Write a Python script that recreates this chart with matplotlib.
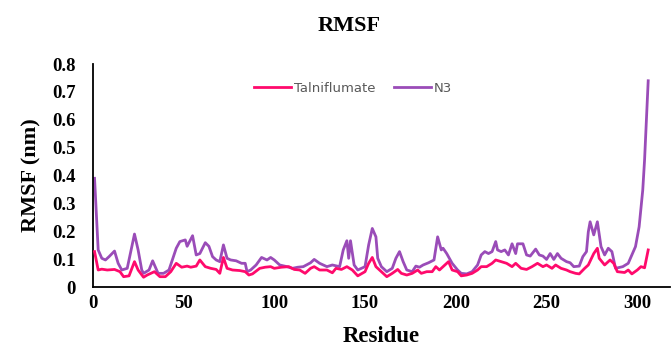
import matplotlib
matplotlib.use("Agg")
import matplotlib.pyplot as plt

# N3 trace (residue, RMSF in nm)
res_n3 = [1, 3, 5, 7, 9, 12, 14, 16, 19, 23, 25, 27, 28, 31, 33, 36, 39, 42, 46,
          48, 51, 52, 55, 57, 59, 62, 64, 66, 68, 70, 72, 74, 76, 79, 82, 84, 85,
          87, 90, 93, 96, 98, 100, 103, 107, 110, 113, 116, 120, 122, 125, 129,
          132, 136, 138, 140, 141, 142, 144, 146, 150, 152, 154, 156, 157, 159,
          162, 165, 167, 169, 171, 173, 176, 178, 180, 182, 185, 188, 190, 192,
          193, 195, 198, 201, 203, 206, 209, 212, 214, 216, 218, 220, 222, 223,
          225, 227, 229, 231, 233, 234, 237, 239, 241, 244, 246, 248, 250, 252,
          254, 256, 258, 261, 263, 265, 268, 270, 272, 273, 274, 276, 278, 280,
          282, 284, 286, 288, 292, 295, 297, 299, 301, 303, 304, 306]
rmsf_n3 = [0.39, 0.133, 0.103, 0.097, 0.109, 0.129, 0.085, 0.061, 0.067, 0.19,
           0.133, 0.061, 0.049, 0.061, 0.094, 0.049, 0.049, 0.061, 0.139,
           0.163, 0.169, 0.146, 0.184, 0.115, 0.12, 0.159, 0.146, 0.109, 0.097,
           0.091, 0.151, 0.103, 0.097, 0.094, 0.085, 0.085, 0.055,
           0.061, 0.079, 0.106, 0.097, 0.106, 0.097, 0.079, 0.073, 0.067, 0.071,
           0.073, 0.087, 0.099, 0.085, 0.073,
           0.079, 0.073, 0.133, 0.166, 0.103, 0.166, 0.079, 0.061, 0.073, 0.151,
           0.21, 0.18, 0.103, 0.073,
           0.055, 0.067, 0.103, 0.127, 0.091, 0.061, 0.055, 0.075, 0.071, 0.079,
           0.087, 0.097, 0.18, 0.133,
           0.139, 0.12, 0.085, 0.061, 0.049, 0.047, 0.055, 0.079, 0.115, 0.127,
           0.12, 0.127, 0.163, 0.133,
           0.127, 0.133, 0.115, 0.155, 0.12, 0.155, 0.155, 0.115, 0.111, 0.136,
           0.115, 0.111, 0.099, 0.12,
           0.099, 0.12, 0.103, 0.091, 0.087, 0.073, 0.075, 0.109, 0.127, 0.198,
           0.234, 0.187, 0.234, 0.145,
           0.115, 0.139, 0.127, 0.067, 0.073, 0.085, 0.115, 0.145, 0.216, 0.348,
           0.456, 0.74]

# Talniflumate trace
res_tal = [1, 3, 5, 8, 12, 15, 17, 20, 23, 25, 28, 30, 34, 37, 40, 43, 46, 49,
           52, 54, 57, 59, 62, 65, 68, 70, 72, 74, 77, 81, 84, 86, 88, 92, 95,
           98, 100, 104, 108, 111, 114, 117, 120, 122, 125, 129, 132, 134, 137,
           140, 143, 146, 150, 152, 154, 156, 159, 162, 165, 168, 170, 173, 176,
           179, 181, 184, 187, 189, 191, 193, 196, 198, 201, 203, 206, 209, 212,
           214, 217, 220, 222, 225, 228, 231, 233, 236, 239, 242, 245, 248, 250,
           253, 255, 258, 261, 263, 266, 268, 271, 273, 276, 278, 279, 282, 285,
           287, 289, 293, 295, 297, 300, 302, 304, 306]
rmsf_tal = [0.127, 0.061, 0.064, 0.061, 0.063, 0.055, 0.037, 0.04, 0.091, 0.061,
            0.035, 0.043, 0.055, 0.037, 0.037, 0.055, 0.085, 0.071,
            0.075, 0.071, 0.075, 0.097, 0.073, 0.067, 0.063, 0.049, 0.106, 0.067,
            0.061, 0.059, 0.055, 0.043, 0.047, 0.067, 0.071,
            0.073, 0.067, 0.071, 0.073, 0.063, 0.061, 0.049, 0.067, 0.073, 0.061,
            0.061, 0.051, 0.067, 0.063,
            0.073, 0.061, 0.04, 0.055, 0.085, 0.106, 0.073, 0.055, 0.037, 0.049,
            0.063, 0.049, 0.043, 0.049,
            0.061, 0.049, 0.055, 0.055, 0.073, 0.061, 0.073, 0.091, 0.061, 0.055,
            0.04, 0.043, 0.049, 0.061,
            0.073, 0.073, 0.085, 0.097, 0.091, 0.085, 0.073, 0.085, 0.067, 0.063,
            0.073, 0.085, 0.073, 0.079,
            0.067, 0.079, 0.067, 0.061, 0.055, 0.049, 0.047, 0.067, 0.079, 0.12,
            0.139, 0.103, 0.079, 0.097,
            0.085, 0.055, 0.052, 0.061, 0.047, 0.061, 0.073, 0.069, 0.133]

xticks = [0, 50, 100, 150, 200, 250, 300]
yticks = [0, 0.1, 0.2, 0.3, 0.4, 0.5, 0.6, 0.7, 0.8]

serif = "Liberation Serif"

fig = plt.figure(figsize=(6.72, 3.5), dpi=100)
ax = fig.add_axes([0.138, 0.18, 0.859, 0.637])

ax.plot(res_tal, rmsf_tal, color="#ff0a6c", lw=2.0, label="Talniflumate", zorder=3)
ax.plot(res_n3, rmsf_n3, color="#9a4cb8", lw=2.0, label="N3", zorder=2)

ax.set_xlim(0, 318)
ax.set_ylim(0, 0.8)
ax.set_xticks(xticks)
ax.set_yticks(yticks)
ax.set_yticklabels(["0" if v == 0 else "%.1f" % v for v in yticks])
ax.tick_params(length=0)
ax.tick_params(axis="y", pad=12)
ax.tick_params(axis="x", pad=6)
for lab in ax.get_xticklabels() + ax.get_yticklabels():
    lab.set_fontfamily(serif)
    lab.set_fontweight("bold")
    lab.set_fontsize(13.5)

for s in ["top", "right"]:
    ax.spines[s].set_visible(False)
for s in ["left", "bottom"]:
    ax.spines[s].set_color("black")
    ax.spines[s].set_linewidth(1.3)

ax.set_xlabel("Residue", fontfamily=serif, fontweight="bold", fontsize=16.5, labelpad=10)
ax.set_ylabel("RMSF (nm)", fontfamily=serif, fontweight="bold", fontsize=16, labelpad=8)
fig.text(0.52, 0.925, "RMSF", fontfamily=serif, fontweight="bold", fontsize=16,
         ha="center", va="center")

leg = ax.legend(loc="center", bbox_to_anchor=(0.451, 0.892), ncol=2, frameon=False,
                handlelength=2.8, handletextpad=0.25, columnspacing=1.4,
                prop={"family": "DejaVu Sans", "size": 9.5})
for t in leg.get_texts():
    t.set_color("#595959")

fig.savefig("out.png", dpi=100)
